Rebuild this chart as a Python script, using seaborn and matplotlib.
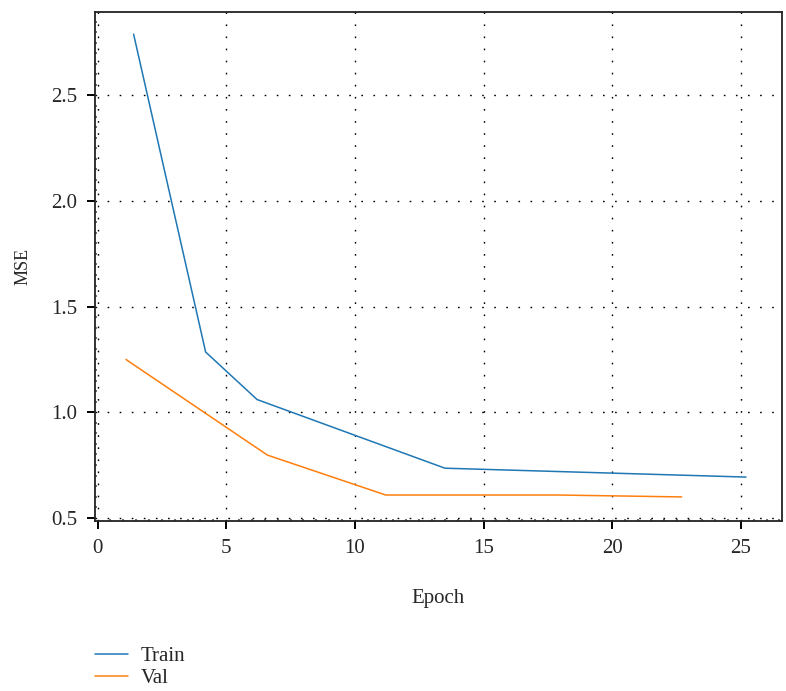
import matplotlib
matplotlib.use("Agg")
import matplotlib.pyplot as plt
from matplotlib.ticker import MultipleLocator
import seaborn as sns
import pandas as pd

train_epoch = [1.4, 4.2, 6.2, 13.5, 25.2]
train_mse = [2.79, 1.285, 1.06, 0.735, 0.693]
val_epoch = [1.1, 6.6, 11.2, 17.9, 22.7]
val_mse = [1.25, 0.797, 0.608, 0.608, 0.599]
series_names = ["Train", "Val"]

df = pd.concat([
    pd.DataFrame({"Epoch": train_epoch, "MSE": train_mse, "Series": series_names[0]}),
    pd.DataFrame({"Epoch": val_epoch, "MSE": val_mse, "Series": series_names[1]}),
])

sns.set_style("white")
plt.rcParams["font.family"] = ["Liberation Serif", "DejaVu Serif"]

fig = plt.figure(figsize=(7.86, 6.91), dpi=100)
ax = fig.add_axes([95/786, 1 - 521/691, (782-95)/786, (521-12)/691])

sns.lineplot(data=df, x="Epoch", y="MSE", hue="Series", sort=False,
             palette=["#1f77b4", "#ff7f0e"], linewidth=1.1, ax=ax, estimator=None)

ax.set_xlim(-0.1, 26.6)
ax.set_ylim(0.485, 2.895)
ax.xaxis.set_major_locator(MultipleLocator(5))
ax.yaxis.set_major_locator(MultipleLocator(0.5))
ax.xaxis.set_minor_locator(MultipleLocator(0.5))
ax.yaxis.set_minor_locator(MultipleLocator(0.05))
ax.tick_params(axis="both", which="both", bottom=True, left=True, top=False, right=False)
ax.tick_params(axis="both", which="major", direction="out", length=6, width=1.4,
               labelsize=15, color="black", pad=7)
ax.tick_params(axis="both", which="minor", direction="in", length=1.5, width=1.2,
               color="#555555")
ax.yaxis.set_major_formatter(matplotlib.ticker.FormatStrFormatter("%.1f"))
for s in ax.spines.values():
    s.set_color("#222222")
    s.set_linewidth(1.3)
ax.grid(True, which="major", color="black", linestyle=(0, (1.2, 7.5)), linewidth=1.0)

ax.set_xlabel("Epoch", fontsize=15, labelpad=22)
ax.set_ylabel("MSE", fontsize=13, labelpad=14)

handles, labels = ax.get_legend_handles_labels()
ax.legend(handles, labels, loc="upper left", bbox_to_anchor=(-0.012, -0.23),
          frameon=False, fontsize=15, handlelength=1.6, handletextpad=0.6,
          labelspacing=0.12, borderaxespad=0)

fig.savefig("out.png", dpi=100)
